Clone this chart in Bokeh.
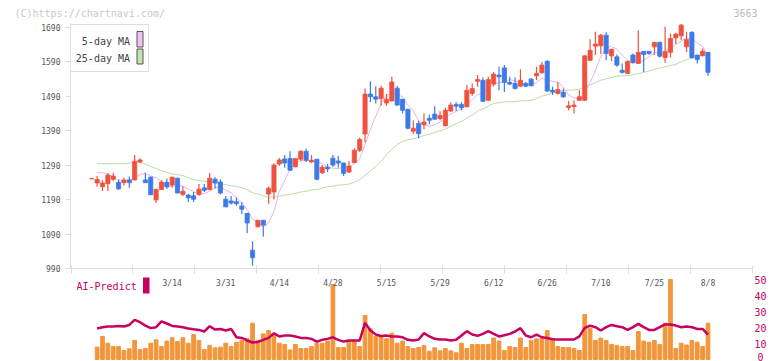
from bokeh.plotting import figure
from bokeh.layouts import column
from bokeh.models import Range1d, FixedTicker, Label, BoxAnnotation, ColumnDataSource
from bokeh.embed import file_html
from bokeh.resources import INLINE

nan = float("nan")

# ---------------- data ----------------
opens = [1250, 1238, 1227, 1236, 1249, 1240, 1239, 1247, 1247, 1299,
         1247, 1255, 1189, 1219, 1240, 1232, 1252, 1205, 1203, 1201,
         1205, 1224, 1219, 1249, 1241, 1191, 1186, 1184, 1171, 1150,
         1043, 1111, 1130, 1206, 1212, 1293, 1308, 1309, 1285, 1307,
         1330, 1299, 1307, 1268, 1284, 1310, 1302, 1296, 1270, 1297,
         1333, 1380, 1496, 1488, 1483, 1470, 1476, 1513, 1481, 1452,
         1388, 1411, 1407, 1426, 1438, 1425, 1404, 1447, 1466, 1466,
         1459, 1498, 1533, 1536, 1478, 1525, 1551, 1572, 1530, 1527,
         1519, 1527, 1539, 1549, 1558, 1591, 1507, 1498, 1501, 1457,
         1460, 1478, 1478, 1594, 1635, 1636, 1667, 1607, 1604, 1565,
         1556, 1609, 1585, 1620, 1620, 1633, 1646, 1602, 1617, 1659,
         1665, 1633, 1675, 1609, 1607, 1617]
highs = [1251, 1258, 1246, 1266, 1268, 1248, 1253, 1257, 1319, 1309,
         1268, 1256, 1222, 1246, 1251, 1256, 1253, 1228, 1207, 1212,
         1235, 1235, 1267, 1255, 1248, 1200, 1200, 1196, 1183, 1151,
         1069, 1131, 1131, 1227, 1295, 1310, 1319, 1330, 1310, 1333,
         1338, 1319, 1308, 1290, 1294, 1319, 1316, 1297, 1302, 1339,
         1369, 1512, 1533, 1519, 1520, 1496, 1546, 1520, 1482, 1453,
         1420, 1418, 1440, 1436, 1461, 1446, 1456, 1472, 1472, 1472,
         1522, 1527, 1551, 1544, 1546, 1560, 1575, 1580, 1546, 1544,
         1568, 1531, 1543, 1575, 1589, 1594, 1517, 1530, 1512, 1476,
         1478, 1507, 1608, 1655, 1677, 1670, 1675, 1627, 1611, 1585,
         1592, 1614, 1681, 1621, 1621, 1647, 1648, 1691, 1672, 1674,
         1699, 1677, 1678, 1610, 1628, 1617]
lows = [1250, 1227, 1215, 1215, 1244, 1218, 1231, 1224, 1246, 1295,
        1239, 1203, 1180, 1218, 1221, 1224, 1208, 1200, 1183, 1183,
        1201, 1212, 1217, 1222, 1205, 1168, 1176, 1172, 1148, 1093,
        998, 1110, 1082, 1178, 1190, 1288, 1282, 1274, 1284, 1301,
        1299, 1296, 1246, 1264, 1270, 1285, 1283, 1258, 1267, 1296,
        1328, 1356, 1473, 1469, 1462, 1462, 1475, 1462, 1440, 1393,
        1381, 1368, 1394, 1408, 1422, 1420, 1403, 1444, 1447, 1449,
        1458, 1491, 1517, 1474, 1477, 1519, 1507, 1502, 1522, 1509,
        1517, 1517, 1519, 1536, 1556, 1502, 1493, 1495, 1485, 1449,
        1440, 1477, 1476, 1592, 1609, 1612, 1594, 1592, 1575, 1556,
        1554, 1585, 1584, 1560, 1609, 1609, 1602, 1587, 1602, 1641,
        1652, 1617, 1599, 1585, 1606, 1549]
closes = [1251, 1248, 1238, 1261, 1258, 1221, 1247, 1239, 1301, 1305,
          1239, 1204, 1219, 1241, 1227, 1255, 1209, 1214, 1195, 1191,
          1220, 1217, 1252, 1238, 1209, 1169, 1180, 1178, 1162, 1122,
          1021, 1130, 1116, 1223, 1290, 1305, 1296, 1275, 1309, 1330,
          1304, 1304, 1249, 1284, 1279, 1290, 1296, 1266, 1287, 1333,
          1364, 1496, 1488, 1481, 1513, 1481, 1531, 1464, 1449, 1397,
          1397, 1381, 1415, 1420, 1423, 1434, 1449, 1464, 1461, 1456,
          1507, 1512, 1538, 1475, 1538, 1554, 1546, 1530, 1525, 1512,
          1536, 1519, 1520, 1556, 1580, 1505, 1502, 1509, 1488, 1462,
          1464, 1488, 1607, 1623, 1641, 1667, 1614, 1626, 1580, 1559,
          1591, 1587, 1617, 1611, 1614, 1646, 1606, 1619, 1657, 1670,
          1696, 1654, 1602, 1596, 1620, 1559]
ma5 = [nan, 1268, 1268, 1264, 1255, 1245, 1245, 1245, 1253, 1263,
       1266, 1258, 1254, 1242, 1226, 1229, 1230, 1229, 1220, 1213,
       1206, 1207, 1215, 1224, 1227, 1217, 1210, 1195, 1180, 1162,
       1133, 1123, 1110, 1122, 1156, 1213, 1246, 1278, 1295, 1303,
       1303, 1304, 1299, 1294, 1284, 1281, 1280, 1283, 1284, 1294,
       1309, 1349, 1394, 1432, 1468, 1492, 1499, 1494, 1488, 1464,
       1448, 1418, 1408, 1402, 1407, 1415, 1428, 1438, 1446, 1453,
       1467, 1480, 1495, 1498, 1514, 1523, 1530, 1529, 1539, 1533,
       1530, 1524, 1522, 1529, 1542, 1536, 1533, 1530, 1517, 1493,
       1485, 1482, 1502, 1529, 1565, 1605, 1630, 1634, 1626, 1609,
       1594, 1589, 1587, 1593, 1604, 1615, 1619, 1619, 1628, 1640,
       1650, 1659, 1656, 1644, 1634, 1606]
ma25 = [nan, 1294, 1294, 1294, 1294, 1294, 1294, 1296, 1298, 1298,
        1293, 1286, 1280, 1274, 1269, 1264, 1262, 1260, 1253, 1248,
        1245, 1243, 1241, 1239, 1236, 1233, 1230, 1228, 1224, 1218,
        1210, 1206, 1201, 1197, 1197, 1200, 1203, 1205, 1208, 1212,
        1214, 1218, 1219, 1223, 1227, 1229, 1232, 1233, 1235, 1240,
        1248, 1260, 1273, 1286, 1301, 1320, 1336, 1350, 1359, 1363,
        1367, 1370, 1376, 1380, 1384, 1389, 1395, 1403, 1410, 1417,
        1426, 1435, 1446, 1453, 1461, 1469, 1471, 1473, 1474, 1474,
        1477, 1476, 1478, 1483, 1490, 1494, 1499, 1503, 1506, 1507,
        1508, 1510, 1516, 1522, 1530, 1536, 1540, 1544, 1548, 1549,
        1550, 1552, 1555, 1559, 1563, 1567, 1571, 1575, 1579, 1582,
        1590, 1596, 1600, 1604, 1610, 1614]
volume = [nan, 7.7, 14.4, 10.2, 8.1, 8.1, 5.6, 6.7, 11.9, 6.2,
          6.9, 10.2, 12.3, 8.1, 11.5, 13.6, 11.2, 13.6, 10.2, 15.6,
          11.9, 6.2, 8.8, 7.3, 7.7, 10.2, 8.1, 10.8, 11.9, 12.9,
          22.7, 11.9, 16.0, 18.1, 16.0, 10.2, 9.4, 6.0, 9.4, 6.9,
          6.9, 8.1, 10.2, 10.2, 11.5, 46.9, 7.5, 7.5, 11.2, 11.2,
          8.1, 27.5, 19.2, 14.4, 14.4, 13.0, 16.5, 10.2, 11.5, 8.1,
          6.9, 7.5, 8.8, 5.2, 7.3, 5.4, 6.9, 5.4, 4.2, 10.2,
          6.9, 9.4, 9.4, 9.4, 9.4, 13.4, 11.5, 5.6, 8.1, 7.5,
          13.4, 7.5, 11.9, 12.9, 13.4, 18.1, 12.9, 8.1, 7.5, 7.5,
          6.9, 5.6, 28.1, 19.6, 11.9, 13.4, 11.9, 9.4, 8.8, 8.1,
          8.1, 5.6, 17.5, 11.5, 10.8, 11.9, 9.4, 22.7, 50.0, 6.9,
          10.2, 9.1, 11.9, 10.8, 8.1, 22.7]
ai_predict = [nan, 19.4, 20.2, 20.6, 20.6, 21.0, 20.6, 21.6, 24.8, 23.3,
              21.2, 19.6, 20.2, 23.8, 22.5, 21.0, 20.6, 20.2, 19.4, 18.9,
              18.5, 17.5, 20.8, 18.7, 19.1, 18.1, 19.1, 13.9, 13.5, 11.9,
              10.6, 11.0, 12.3, 13.5, 16.4, 14.4, 15.0, 15.0, 14.4, 13.5,
              13.5, 12.9, 11.2, 12.3, 12.9, 13.9, 12.3, 11.2, 11.9, 11.9,
              11.9, 22.9, 18.1, 15.6, 14.7, 15.0, 14.4, 14.4, 13.9, 12.3,
              11.9, 12.5, 16.5, 14.4, 12.9, 12.5, 12.5, 11.9, 12.3, 15.0,
              17.7, 15.6, 14.8, 16.0, 17.7, 16.0, 14.4, 15.2, 16.0, 17.5,
              19.6, 15.0, 13.9, 15.6, 13.9, 13.4, 12.7, 12.5, 12.5, 12.5,
              12.5, 14.4, 19.8, 21.2, 20.2, 18.1, 20.2, 21.6, 20.8, 20.2,
              18.5, 20.2, 22.3, 20.2, 18.5, 18.5, 20.2, 21.9, 21.9, 21.2,
              20.2, 20.6, 20.2, 19.1, 19.1, 15.6]
date_labels = ["3/14", "3/31", "4/14", "4/28", "5/15", "5/29",
               "6/12", "6/26", "7/10", "7/25", "8/8"]
date_label_index = [15, 25, 35, 45, 55, 65, 75, 85, 95, 105, 115]
price_ticks = [990, 1090, 1190, 1290, 1390, 1490, 1590, 1690]
volume_ticks = [0, 10, 20, 30, 40, 50]

# ---------------- styles ----------------
RED = "#f0513f"
BLUE = "#3c7ae8"
PINK = "#e8b2e8"
GREEN = "#b6dca6"
ORANGE = "#f2963c"
CRIMSON = "#c8005f"
AXIS = "#dcdcdc"
TXT = "#555555"
FONT = "DejaVu Sans Mono"
CAN = dict(left_units="canvas", right_units="canvas", top_units="canvas", bottom_units="canvas")

n = len(closes)
xs = list(range(n))
colors = [RED if c >= o else BLUE for o, c in zip(opens, closes)]
src = ColumnDataSource(dict(x=xs, open=opens, high=highs, low=lows, close=closes,
                            color=colors, ma5=ma5, ma25=ma25, vol=volume, ai=ai_predict))

PX = 5.358             # pixels per trading day
X0 = (70 - 91.3) / PX  # frame left edge in index units
XA = (752 - 91.3) / PX  # end of the drawn x axis
X1 = (772 - 91.3) / PX  # frame right edge (canvas edge)
xr = Range1d(X0, X1)

# ---------------- header strip ----------------
head = figure(frame_width=772, frame_height=20, x_range=Range1d(0, 1), y_range=Range1d(0, 1),
              output_backend="svg", toolbar_location=None,
              x_axis_location=None, y_axis_location=None,
              min_border_left=0, min_border_right=0, min_border_top=0, min_border_bottom=0,
              outline_line_color=None)
head.frame_align = False
head.grid.visible = False
head.add_layout(Label(x=14, y=12.5, x_units="canvas", y_units="canvas",
                      text="(C)https://chartnavi.com/", text_font=FONT, text_font_size="10px",
                      text_color="#c8c8c8", text_align="left", text_baseline="middle"))
head.add_layout(Label(x=757, y=12, x_units="canvas", y_units="canvas",
                      text="3663", text_font=FONT, text_font_size="10px",
                      text_color="#bbbbbb", text_align="right", text_baseline="middle"))

# ---------------- price panel ----------------
PPX = 0.34471  # pixels per yen
p1 = figure(frame_width=702, frame_height=248, x_range=xr,
            y_range=Range1d(990, 990 + 248 / PPX),
            output_backend="svg", toolbar_location=None,
            min_border_left=70, min_border_right=0, min_border_top=0, min_border_bottom=7,
            outline_line_color=None)
p1.xgrid.visible = False
p1.ygrid.visible = False

ya = p1.yaxis[0]
ya.ticker = FixedTicker(ticks=price_ticks)
ya.bounds = (990, 1700)
ya.axis_line_color = AXIS
ya.major_tick_line_color = AXIS
ya.major_tick_out = 5
ya.major_tick_in = 0
ya.minor_tick_line_color = None
ya.major_label_text_font = FONT
ya.major_label_text_font_size = "8px"
ya.major_label_text_color = TXT
ya.major_label_standoff = 5

xa = p1.xaxis[0]
step = (XA - X0) / 11
xa.ticker = FixedTicker(ticks=[X0 + 0.1 + k * step if k == 0 else X0 + k * step for k in range(12)])
xa.bounds = (X0, XA)
xa.axis_line_color = AXIS
xa.major_tick_line_color = AXIS
xa.major_tick_in = 3
xa.major_tick_out = 5
xa.minor_tick_line_color = None
xa.major_label_text_font_size = "1px"
xa.major_label_text_alpha = 0
xa.major_label_standoff = 0

p1.line("x", "ma25", source=src, color=GREEN, line_width=1)
p1.line("x", "ma5", source=src, color=PINK, line_width=1)
p1.segment(x0="x", y0="high", x1="x", y1="low", source=src, color="color", line_width=1.2)
p1.vbar(x="x", width=0.78, top="open", bottom="close", source=src,
        fill_color="color", line_color="color", line_width=0.8)

# legend box (canvas coords of the price panel, which starts 20px down)
p1.add_layout(BoxAnnotation(left=70, right=148, top=4, bottom=51, **CAN,
                            fill_color="white", fill_alpha=1, line_color="#dddddd", line_alpha=1, line_width=1))
p1.add_layout(BoxAnnotation(left=136.5, right=142.5, top=11, bottom=26.5, **CAN,
                            fill_color="#f0c2f0", fill_alpha=1, line_color="#555555", line_alpha=1, line_width=1))
p1.add_layout(BoxAnnotation(left=136.5, right=142.5, top=28.5, bottom=43.5, **CAN,
                            fill_color="#c2e2b2", fill_alpha=1, line_color="#555555", line_alpha=1, line_width=1))
p1.add_layout(Label(x=129.5, y=21, x_units="canvas", y_units="canvas", text="5-day MA",
                    text_font=FONT, text_font_size="10px", text_color="#444444",
                    text_align="right", text_baseline="middle"))
p1.add_layout(Label(x=129.5, y=37.5, x_units="canvas", y_units="canvas", text="25-day MA",
                    text_font=FONT, text_font_size="10px", text_color="#444444",
                    text_align="right", text_baseline="middle"))

# ---------------- volume / AI panel ----------------
VPX = 1.6  # pixels per unit
p2 = figure(frame_width=702, frame_height=86, x_range=xr,
            y_range=Range1d(-2 / VPX, 84 / VPX),
            output_backend="svg", toolbar_location=None,
            x_axis_location=None, y_axis_location=None,
            min_border_left=70, min_border_right=0, min_border_top=0, min_border_bottom=0,
            outline_line_color=None)
p2.xgrid.visible = False
p2.ygrid.visible = False
p2.vbar(x="x", width=0.7, top="vol", bottom=0, source=src, color=ORANGE)
p2.line("x", "ai", source=src, color=CRIMSON, line_width=2.5)

for lab, ix in zip(date_labels, date_label_index):
    p2.add_layout(Label(x=ix, y=8, x_units="data", y_units="canvas", text=lab,
                        text_font=FONT, text_font_size="8px", text_color=TXT,
                        text_align="center", text_baseline="middle"))
for v in volume_ticks:
    p2.add_layout(Label(x=760, y=v, x_units="canvas", y_units="data", text=str(v),
                        y_offset=3 if v == 0 else 0,
                        text_font=FONT, text_font_size="10px", text_color=CRIMSON,
                        text_align="center", text_baseline="middle"))
p2.add_layout(Label(x=76, y=11, x_units="canvas", y_units="canvas", text="AI-Predict",
                    text_font=FONT, text_font_size="10px", text_color=CRIMSON,
                    text_align="left", text_baseline="middle"))
p2.add_layout(BoxAnnotation(left=142.5, right=149, top=2, bottom=18, **CAN,
                            fill_color=CRIMSON, fill_alpha=1, line_color=None))

layout = column(head, p1, p2, spacing=0)
open("out.html", "w").write(file_html(layout, INLINE))
